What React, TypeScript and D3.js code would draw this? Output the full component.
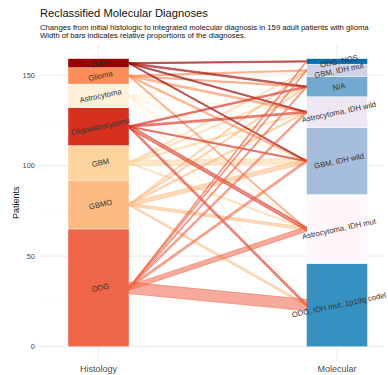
import * as d3 from 'd3';

// histology categories, bottom to top
const histology = ['ODG', 'GBMO', 'GBM', 'Oligoastrocytoma', 'Astrocytoma', 'Glioma', 'Other'];
const histologyColors = ['#ef6548', '#fdbb84', '#fdd49e', '#d7301f', '#fef0d9', '#fc8d59', '#990000'];

// molecular categories, bottom to top
const molecular = ['ODG, IDH mut, 1p19q codel', 'Astrocytoma, IDH mut', 'GBM, IDH wild', 'Astrocytoma, IDH wild', 'N/A', 'GBM, IDH mut', 'ODG, NOS'];
const molecularColors = ['#3690c0', '#fff7fb', '#a6bddb', '#ece7f2', '#74a9cf', '#d0d1e6', '#0570b0'];

// patients moving from each histology group to each molecular group (same order as `molecular`)
const fromODG = [35, 13, 5, 5, 3, 2, 2];
const fromGBMO = [4, 6, 11, 2, 2, 2, 0];
const fromGBM = [0, 1, 14, 2, 1, 1, 0];
const fromOligo = [6, 9, 1, 3, 2, 0, 0];
const fromAstro = [1, 7, 3, 1, 0, 1, 0];
const fromGlioma = [0, 2, 2, 3, 1, 1, 0];
const fromOther = [0, 0, 1, 1, 2, 0, 1];
const flowRows = [fromODG, fromGBMO, fromGBM, fromOligo, fromAstro, fromGlioma, fromOther];

const axes = ['Histology', 'Molecular'];
const yTicks = [0, 50, 100, 150];
const yMinor = [25, 75, 125];

const W = 388;
const H = 375;
const font = 'Liberation Sans, Arial, Helvetica, sans-serif';

function stack(totals: number[]) {
  const ends = Array.from(d3.cumsum(totals));
  return totals.map((v, i) => ({ lo: ends[i] - v, hi: ends[i], mid: ends[i] - v / 2 }));
}

export default function App() {
  const histTotals = flowRows.map((r) => d3.sum(r));
  const molTotals = molecular.map((_, j) => d3.sum(flowRows, (r) => r[j]));
  const total = d3.sum(histTotals);
  const histStack = stack(histTotals);
  const molStack = stack(molTotals);

  const y = d3.scaleLinear().domain([0, 150]).range([346.7, 75]);
  const x = d3.scalePoint().domain(axes).range([98.5, 337]);
  const barW = 61;
  const panelL = 40;
  const panelR = 384;
  const panelT = y(total * 1.05);
  const panelB = y(-total * 0.05);
  const thick = d3.scaleLinear().domain([0, 35]).range([1, 11.5]);

  const x0 = x('Histology')! + barW / 2;
  const x1 = x('Molecular')! - barW / 2;

  const drawOrder = [4, 2, 1, 5, 6, 3, 0];
  const flows: any[] = [];
  drawOrder.forEach((i) => {
    flowRows[i].forEach((n, j) => {
      if (!n) return;
      const ya = y(histStack[i].mid);
      const yb = y(molStack[j].mid);
      const t = thick(n) / 2;
      const pts: [number, number][] = [[x0, ya - t], [x1, yb - t], [x1, yb + t], [x0, ya + t]];
      flows.push(
        <path
          key={`${i}-${j}`}
          d={d3.line()(pts) + 'Z'}
          fill={histologyColors[i]}
          fillOpacity={0.55}
          stroke={histologyColors[i]}
          strokeOpacity={0.85}
          strokeWidth={0.6}
        />
      );
    });
  });

  const bars = (names: string[], colors: string[], st: any[], cx: number) =>
    names.map((name, i) => (
      <rect
        key={name}
        x={cx - barW / 2}
        y={y(st[i].hi)}
        width={barW}
        height={y(st[i].lo) - y(st[i].hi)}
        fill={colors[i]}
        stroke="#ffffff"
        strokeWidth={0.4}
      />
    ));

  const labels = (names: string[], st: any[], cx: number) =>
    names.map((name, i) => (
      <text
        key={name}
        transform={`translate(${cx + 2},${y(st[i].mid)}) rotate(-12)`}
        textAnchor="middle"
        dominantBaseline="central"
        fontSize={7.7}
        fill="#333333"
      >
        {name}
      </text>
    ));

  return (
    <svg width={W} height={H} style={{ position: 'absolute', left: 0, top: 0, background: '#ffffff' }} fontFamily={font}>
      <text x={40} y={17} fontSize={11.2} fill="#111">Reclassified Molecular Diagnoses</text>
      <text x={40} y={29.5} fontSize={7.7} fill="#111">
        Changes from initial histologic to integrated molecular diagnosis in 159 adult patients with glioma
      </text>
      <text x={40} y={37.8} fontSize={7.7} fill="#111">Width of bars indicates relative proportions of the diagnoses.</text>

      {yMinor.map((t) => (
        <line key={'m' + t} x1={panelL} x2={panelR} y1={y(t)} y2={y(t)} stroke="#f3f3f3" strokeWidth={0.5} />
      ))}
      {yTicks.map((t) => (
        <line key={'g' + t} x1={panelL} x2={panelR} y1={y(t)} y2={y(t)} stroke="#ebebeb" strokeWidth={1} />
      ))}
      {axes.map((a) => (
        <line key={'v' + a} x1={x(a)} x2={x(a)} y1={panelT} y2={panelB} stroke="#ebebeb" strokeWidth={1} />
      ))}

      {bars(histology, histologyColors, histStack, x('Histology')!)}
      {bars(molecular, molecularColors, molStack, x('Molecular')!)}
      {flows}
      {labels(histology, histStack, x('Histology')!)}
      {labels(molecular, molStack, x('Molecular')!)}

      {yTicks.map((t) => (
        <text key={'t' + t} x={35} y={y(t)} textAnchor="end" dominantBaseline="central" fontSize={7.5} fill="#4d4d4d">
          {t}
        </text>
      ))}
      <text transform={`translate(16,${(panelT + panelB) / 2}) rotate(-90)`} textAnchor="middle" dominantBaseline="central" fontSize={9} fill="#111">
        Patients
      </text>
      {axes.map((a) => (
        <text key={'x' + a} x={x(a)} y={372} textAnchor="middle" fontSize={9} fill="#4d4d4d">
          {a}
        </text>
      ))}
    </svg>
  );
}
